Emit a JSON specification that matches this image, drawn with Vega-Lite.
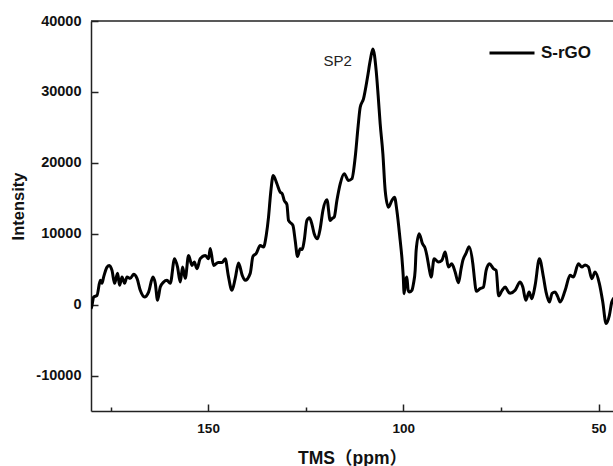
{
  "$schema": "https://vega.github.io/schema/vega-lite/v6.json",
  "autosize": "none",
  "width": 522,
  "height": 390,
  "padding": {"left": 91, "top": 21, "right": 0, "bottom": 55},
  "background": "white",
  "config": {"view": {"stroke": null}, "font": "Liberation Sans"},
  "layer": [
    {
      "data": {"values": [
        {"ppm":180,"intensity":-600},{"ppm":179.74,"intensity":-100},{"ppm":179.33,"intensity":1070},{"ppm":178.46,"intensity":1310},{"ppm":177.62,"intensity":3423},{"ppm":177.18,"intensity":3000},{"ppm":176.77,"intensity":3887},{"ppm":175.9,"intensity":5296},{"ppm":175.31,"intensity":5535},{"ppm":174.62,"intensity":4831},{"ppm":173.96,"intensity":3000},{"ppm":173.19,"intensity":4409},{"ppm":172.68,"intensity":2718},{"ppm":172.06,"intensity":3887},{"ppm":171.4,"intensity":3000},{"ppm":170.78,"intensity":3887},{"ppm":169.94,"intensity":3704},{"ppm":169.09,"intensity":4268},{"ppm":168.22,"intensity":3704},{"ppm":167.38,"intensity":2014},{"ppm":166.28,"intensity":1070},{"ppm":165.25,"intensity":1775},{"ppm":164.13,"intensity":3887},{"ppm":163.54,"intensity":3000},{"ppm":162.95,"intensity":606},{"ppm":162.26,"intensity":2479},{"ppm":161.41,"intensity":3183},{"ppm":160.54,"intensity":3423},{"ppm":159.7,"intensity":3000},{"ppm":158.6,"intensity":6479},{"ppm":157.83,"intensity":5296},{"ppm":157.14,"intensity":3183},{"ppm":156.55,"intensity":5296},{"ppm":155.86,"intensity":3704},{"ppm":155.01,"intensity":6944},{"ppm":154.14,"intensity":5535},{"ppm":153.55,"intensity":6000},{"ppm":152.86,"intensity":5071},{"ppm":152.02,"intensity":6479},{"ppm":150.74,"intensity":6944},{"ppm":149.89,"intensity":6479},{"ppm":149.46,"intensity":7930},{"ppm":148.61,"intensity":5535},{"ppm":147.41,"intensity":5958},{"ppm":146.38,"intensity":5958},{"ppm":145.62,"intensity":6479},{"ppm":144.85,"intensity":4127},{"ppm":143.9,"intensity":2014},{"ppm":143.06,"intensity":3704},{"ppm":142.21,"intensity":5859},{"ppm":141.26,"intensity":4127},{"ppm":140.5,"intensity":3423},{"ppm":139.22,"intensity":4409},{"ppm":138.52,"intensity":6803},{"ppm":137.68,"intensity":7226},{"ppm":136.66,"intensity":8352},{"ppm":135.81,"intensity":8113},{"ppm":135.12,"intensity":9761},{"ppm":134.53,"intensity":12338},{"ppm":133.97,"intensity":15817},{"ppm":133.33,"intensity":18212},{"ppm":132.38,"intensity":17043},{"ppm":131.54,"intensity":15860},{"ppm":131.02,"intensity":15634},{"ppm":130.51,"intensity":14691},{"ppm":129.82,"intensity":14127},{"ppm":129.41,"intensity":11874},{"ppm":128.28,"intensity":11169},{"ppm":127.7,"intensity":9057},{"ppm":127.11,"intensity":6803},{"ppm":126.41,"intensity":7888},{"ppm":125.9,"intensity":7789},{"ppm":125.39,"intensity":9057},{"ppm":124.7,"intensity":11874},{"ppm":124.03,"intensity":12254},{"ppm":123.34,"intensity":11169},{"ppm":122.83,"intensity":10000},{"ppm":121.99,"intensity":9296},{"ppm":121.29,"intensity":10747},{"ppm":120.6,"intensity":13282},{"ppm":119.58,"intensity":14789},{"ppm":118.73,"intensity":11874},{"ppm":118.22,"intensity":12155},{"ppm":117.71,"intensity":12338},{"ppm":117.02,"intensity":14691},{"ppm":116.17,"intensity":17043},{"ppm":115.15,"intensity":18451},{"ppm":114.05,"intensity":17508},{"ppm":113.18,"intensity":17747},{"ppm":112.33,"intensity":20789},{"ppm":111.57,"intensity":25254},{"ppm":111.05,"intensity":27832},{"ppm":110.21,"intensity":29015},{"ppm":109.18,"intensity":32057},{"ppm":108.49,"intensity":34410},{"ppm":107.8,"intensity":36058},{"ppm":106.96,"intensity":33001},{"ppm":106.45,"intensity":29480},{"ppm":105.93,"intensity":25494},{"ppm":105.24,"intensity":21268},{"ppm":104.65,"intensity":16099},{"ppm":103.81,"intensity":13747},{"ppm":102.94,"intensity":14691},{"ppm":102.27,"intensity":15155},{"ppm":101.66,"intensity":13282},{"ppm":100.81,"intensity":9057},{"ppm":100.38,"intensity":6704},{"ppm":100.04,"intensity":4127},{"ppm":99.79,"intensity":1549},{"ppm":99.4,"intensity":3423},{"ppm":99.1,"intensity":3887},{"ppm":98.76,"intensity":2014},{"ppm":98.43,"intensity":1775},{"ppm":97.82,"intensity":2014},{"ppm":97.41,"intensity":2958},{"ppm":96.97,"intensity":4831},{"ppm":96.72,"intensity":7648},{"ppm":95.95,"intensity":10000},{"ppm":95.1,"intensity":8592},{"ppm":94.41,"intensity":7930},{"ppm":93.98,"intensity":6944},{"ppm":93.39,"intensity":5113},{"ppm":92.88,"intensity":3887},{"ppm":92.11,"intensity":6479},{"ppm":91.01,"intensity":6000},{"ppm":90.14,"intensity":6240},{"ppm":89.29,"intensity":7409},{"ppm":88.45,"intensity":5296},{"ppm":87.58,"intensity":5775},{"ppm":86.73,"intensity":4592},{"ppm":85.89,"intensity":3071},{"ppm":85.19,"intensity":5113},{"ppm":84.76,"intensity":6240},{"ppm":83.99,"intensity":7183},{"ppm":83.15,"intensity":8169},{"ppm":82.2,"intensity":5775},{"ppm":81.74,"intensity":3423},{"ppm":81.35,"intensity":1873},{"ppm":80.33,"intensity":2254},{"ppm":79.49,"intensity":2479},{"ppm":78.79,"intensity":4831},{"ppm":77.95,"intensity":5775},{"ppm":76.93,"intensity":5071},{"ppm":76.23,"intensity":4831},{"ppm":75.59,"intensity":1239},{"ppm":74.7,"intensity":2014},{"ppm":73.93,"intensity":2479},{"ppm":73.08,"intensity":1775},{"ppm":72.65,"intensity":1592},{"ppm":71.37,"intensity":2014},{"ppm":70.09,"intensity":3183},{"ppm":69.4,"intensity":2479},{"ppm":68.63,"intensity":606},{"ppm":67.78,"intensity":1775},{"ppm":67.09,"intensity":845},{"ppm":66.25,"intensity":2718},{"ppm":65.15,"intensity":6479},{"ppm":64.12,"intensity":3887},{"ppm":63.43,"intensity":1732},{"ppm":62.59,"intensity":366},{"ppm":61.9,"intensity":1592},{"ppm":61.13,"intensity":1775},{"ppm":60.49,"intensity":1169},{"ppm":59.85,"intensity":366},{"ppm":58.56,"intensity":2014},{"ppm":57.29,"intensity":4127},{"ppm":56.44,"intensity":3887},{"ppm":55.16,"intensity":5775},{"ppm":54.29,"intensity":5296},{"ppm":53.45,"intensity":5606},{"ppm":52.6,"intensity":5324},{"ppm":51.73,"intensity":3662},{"ppm":50.89,"intensity":4592},{"ppm":49.79,"intensity":2958},{"ppm":48.92,"intensity":366},{"ppm":48.07,"intensity":-2676},{"ppm":47.23,"intensity":-1507},{"ppm":46.61,"intensity":366},{"ppm":46.2,"intensity":845},{"ppm":45.5,"intensity":1200}
      ]},
      "mark": {"type": "line", "color": "black", "strokeWidth": 3, "clip": true, "strokeJoin": "round", "interpolate": "monotone"},
      "encoding": {
        "x": {
          "field": "ppm", "type": "quantitative",
          "scale": {"domain": [46.3, 180], "reverse": true, "nice": false, "zero": false},
          "axis": {
            "title": "TMS（ppm）",
            "values": [50, 75, 100, 125, 150, 175],
            "labelExpr": "datum.value % 50 === 0 ? datum.label : ''",
            "tickSize": {"condition": {"test": "datum.value % 50 === 0", "value": -7}, "value": -4},
            "labelPadding": 17,
            "domainColor": "#222", "domainWidth": 1.5,
            "tickColor": "#222", "tickWidth": 1.5,
            "labelFont": "Liberation Sans", "labelFontWeight": "bold", "labelFontSize": 13.5, "labelColor": "#111",
            "labelFlush": false, "labelOverlap": false,
            "titleFont": "Liberation Sans, Noto Sans CJK SC", "titleFontWeight": "bold", "titleFontSize": 17.5, "titleColor": "#111",
            "titleY": 52, "titleBaseline": "alphabetic",
            "grid": false
          }
        },
        "y": {
          "field": "intensity", "type": "quantitative",
          "scale": {"domain": [-15000, 40000], "nice": false, "zero": false},
          "axis": {
            "title": "Intensity",
            "values": [-10000, -5000, 0, 5000, 10000, 15000, 20000, 25000, 30000, 35000, 40000],
            "labelExpr": "datum.value % 10000 === 0 ? '' + datum.value : ''",
            "tickSize": {"condition": {"test": "datum.value % 10000 === 0", "value": -7}, "value": -4},
            "labelPadding": 17,
            "domainColor": "#222", "domainWidth": 1.5,
            "tickColor": "#222", "tickWidth": 1.5,
            "labelFont": "Liberation Sans", "labelFontWeight": "bold", "labelFontSize": 14.5, "labelColor": "#111",
            "labelFlush": false, "labelOverlap": false,
            "titleFont": "Liberation Sans", "titleFontWeight": "bold", "titleFontSize": 16.5, "titleColor": "#111",
            "titleX": -73, "titleY": 185, "titleBaseline": "middle",
            "grid": false
          }
        },
        "color": {
          "datum": "S-rGO",
          "scale": {"range": ["black"]},
          "legend": {
            "title": null, "orient": "none", "legendX": 397, "legendY": 8,
            "symbolType": "stroke", "symbolSize": 2025, "symbolStrokeWidth": 3, "symbolStrokeColor": "black",
            "labelFont": "Liberation Sans", "labelFontSize": 17, "labelFontWeight": "bold", "labelColor": "#111",
            "labelOffset": 5, "padding": 0
          }
        }
      }
    },
    {
      "data": {"values": [{"top": 40000}]},
      "mark": {"type": "rule", "color": "#222", "strokeWidth": 1.5},
      "encoding": {"y": {"field": "top", "type": "quantitative"}}
    },
    {
      "data": {"values": [{"ppm": 116.8, "intensity": 34340, "label": "SP2"}]},
      "mark": {"type": "text", "font": "Liberation Sans", "fontSize": 15, "color": "#222", "align": "center", "baseline": "middle"},
      "encoding": {
        "x": {"field": "ppm", "type": "quantitative"},
        "y": {"field": "intensity", "type": "quantitative"},
        "text": {"field": "label"}
      }
    }
  ]
}
